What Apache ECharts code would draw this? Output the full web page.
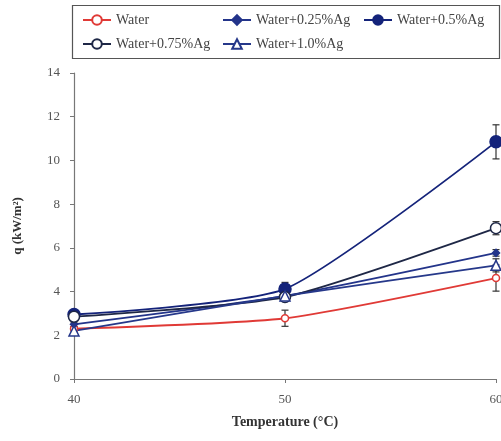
<!DOCTYPE html>
<html><head><meta charset="utf-8">
<script src="https://cdn.jsdelivr.net/npm/echarts@6/dist/echarts.min.js"></script>
<style>html,body{margin:0;padding:0;background:#fff}#c{width:501px;height:441px}</style>
</head><body><div id="c"></div>
<script>
const temps = [40, 50, 60];
const seriesNames = ['Water', 'Water+0.25%Ag', 'Water+0.5%Ag', 'Water+0.75%Ag', 'Water+1.0%Ag'];
const water   = [2.3, 2.78, 4.62];
const ag025   = [2.5, 3.8, 5.77];
const ag05    = [2.95, 4.12, 10.85];
const ag075   = [2.85, 3.75, 6.9];
const ag10    = [2.2, 3.8, 5.2];
const errWater = [0.1, 0.37, 0.6];
const err025   = [0.1, 0.2, 0.15];
const err05    = [0.12, 0.3, 0.78];
const err075   = [0.1, 0.2, 0.3];
const err10    = [0.15, 0.15, 0.3];
const yTicks = [0, 2, 4, 6, 8, 10, 12, 14];

const values = [water, ag025, ag05, ag075, ag10];
const errs = [errWater, err025, err05, err075, err10];
const colors = ['#e03a36', '#23348a', '#14237a', '#1e2746', '#26388a'];
const symbols = ['circle', 'diamond', 'circle', 'circle', 'triangle'];
const sizes = [7, 7, 12, 11, 10];
const filled = [false, true, true, false, false];
const FONT = '"Liberation Serif", "DejaVu Serif", serif';

const series = [];
values.forEach((vals, i) => {
  series.push({
    name: seriesNames[i], type: 'line', smooth: 0.2,
    data: temps.map((t, j) => [t, vals[j]]),
    symbol: symbols[i], symbolSize: sizes[i], showSymbol: true,
    lineStyle: { color: colors[i], width: 1.8 },
    itemStyle: { color: filled[i] ? colors[i] : '#fff', borderColor: colors[i], borderWidth: 1.5 },
    z: 3
  });
  series.push({
    type: 'custom', name: seriesNames[i] + ' err', silent: true, z: 2,
    data: temps.map((t, j) => [t, vals[j] - errs[i][j], vals[j] + errs[i][j]]),
    renderItem: function (params, api) {
      const x = api.value(0);
      const p1 = api.coord([x, api.value(1)]);
      const p2 = api.coord([x, api.value(2)]);
      const w = 3.5;
      const st = { stroke: '#333', lineWidth: 1.2 };
      return { type: 'group', children: [
        { type: 'line', shape: { x1: p1[0], y1: p1[1], x2: p2[0], y2: p2[1] }, style: st },
        { type: 'line', shape: { x1: p1[0] - w, y1: p1[1], x2: p1[0] + w, y2: p1[1] }, style: st },
        { type: 'line', shape: { x1: p2[0] - w, y1: p2[1], x2: p2[0] + w, y2: p2[1] }, style: st }
      ]};
    }
  });
});

const legPos = [[82, 13], [222, 13], [363, 13], [82, 37], [222, 37]];
const legends = seriesNames.map((n, i) => ({
  data: [n], left: legPos[i][0], top: legPos[i][1], padding: 0,
  itemWidth: 28, itemHeight: 12, itemGap: 4,
  textStyle: { fontFamily: FONT, fontSize: 14, color: '#444' },
  selectedMode: false
}));

const chart = echarts.init(document.getElementById('c'));
chart.setOption({
  animation: false,
  backgroundColor: '#fff',
  grid: { left: 74, right: 5, top: 73, bottom: 62, outerBoundsMode: 'none', containLabel: false },
  legend: legends,
  graphic: [{ type: 'rect', shape: { x: 72.5, y: 5.5, width: 427, height: 53 },
    style: { fill: 'none', stroke: '#555', lineWidth: 1.2 }, z: -1 }],
  xAxis: {
    type: 'value', min: 40, max: 60, interval: 10,
    name: 'Temperature (°C)', nameLocation: 'middle', nameGap: 36,
    nameTextStyle: { fontFamily: FONT, fontSize: 14, fontWeight: 'bold', color: '#333' },
    axisLine: { lineStyle: { color: '#777', width: 1.2 } },
    axisTick: { show: true, length: 4, lineStyle: { color: '#777' } },
    axisLabel: { fontFamily: FONT, fontSize: 13, color: '#555', margin: 14 },
    splitLine: { show: false }
  },
  yAxis: {
    type: 'value', min: yTicks[0], max: yTicks[yTicks.length - 1], interval: 2,
    name: 'q (kW/m²)', nameLocation: 'middle', nameGap: 50,
    nameTextStyle: { fontFamily: FONT, fontSize: 13, fontWeight: 'bold', color: '#333' },
    axisLine: { show: true, lineStyle: { color: '#777', width: 1.2 } },
    axisTick: { show: true, length: 4, lineStyle: { color: '#777' } },
    axisLabel: { fontFamily: FONT, fontSize: 13, color: '#555', margin: 14 },
    splitLine: { show: false }
  },
  series: series
});
</script></body></html>
